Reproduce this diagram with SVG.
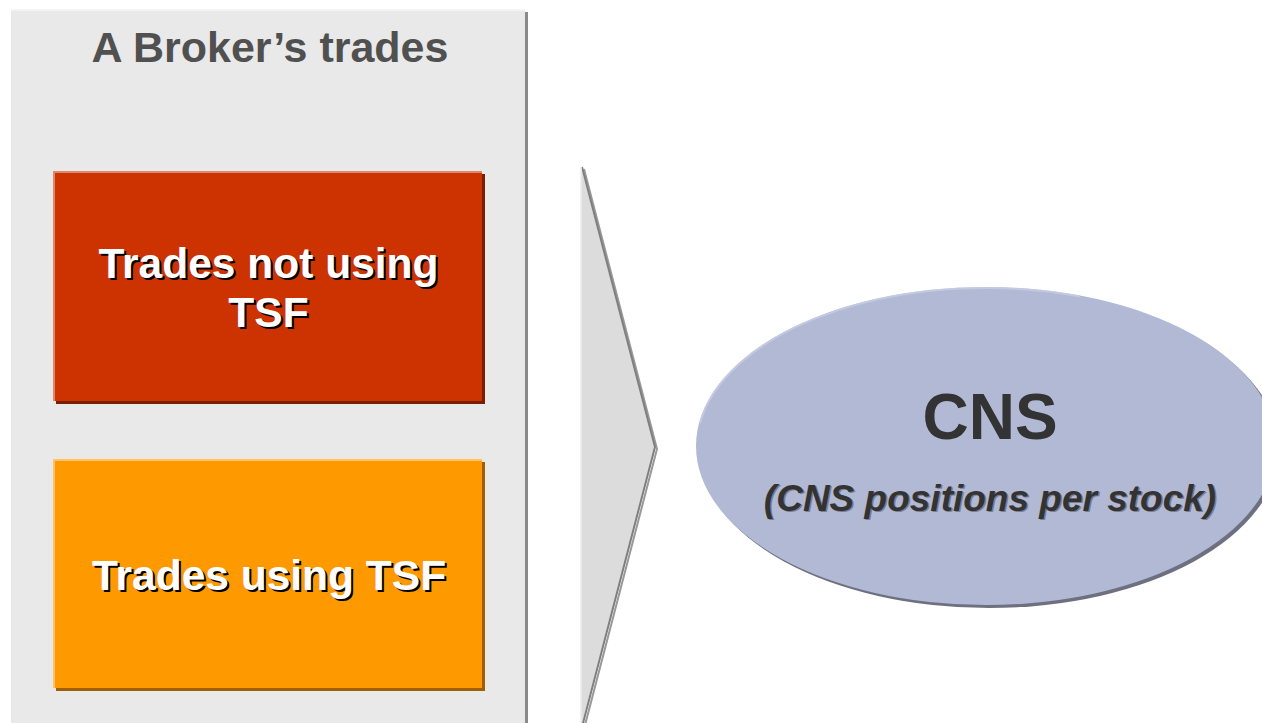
<svg xmlns="http://www.w3.org/2000/svg" width="1262" height="723" viewBox="0 0 1262 723">
<style>
.t{font-family:"Liberation Sans",Arial,sans-serif;font-weight:bold;text-anchor:middle}
.w{fill:#ffffff;font-size:42.5px}
.ws{fill:#000000;font-size:42.5px}
</style>
<rect x="0" y="0" width="1262" height="723" fill="#ffffff"/>
<g id="panel">
<rect x="14" y="12" width="514" height="720" fill="#8a8a8a"/>
<rect x="11" y="9" width="514" height="720" fill="#e9e9e9"/>
<rect x="11" y="9" width="514" height="2" fill="#f4f4f4"/>
<text class="t" x="270" y="62" font-size="43" fill="#505050">A Broker’s trades</text>
</g>
<g id="red-box">
<rect x="56" y="174" width="429" height="230" fill="#7a1e00"/>
<rect x="53" y="171" width="429" height="230" fill="#cc3300"/>
<rect x="53" y="171" width="429" height="2" fill="#e2856a"/>
<rect x="53" y="171" width="2" height="230" fill="#e2856a"/>
<text class="t ws" x="270.5" y="280">Trades not using</text>
<text class="t ws" x="270.5" y="329">TSF</text>
<text class="t w" x="268.5" y="278">Trades not using</text>
<text class="t w" x="268.5" y="327">TSF</text>
</g>
<g id="orange-box">
<rect x="56" y="462" width="429" height="229" fill="#a05f00"/>
<rect x="53" y="459" width="429" height="229" fill="#ff9900"/>
<rect x="53" y="459" width="429" height="2" fill="#ffc266"/>
<rect x="53" y="459" width="2" height="229" fill="#ffc266"/>
<text class="t ws" x="271" y="592">Trades using TSF</text>
<text class="t w" x="269" y="590">Trades using TSF</text>
</g>
<g id="connectors">
<polygon points="581,167 655,447 581,727" fill="#dcdcdc"/>
<polyline points="584,169 657,449 584,729" fill="none" stroke="#999999" stroke-width="2"/>
<polyline points="582,167 655,447 582,727" fill="none" stroke="#7f7f7f" stroke-width="2"/>
<line x1="581" y1="167" x2="581" y2="723" stroke="#ececec" stroke-width="1.5"/>
</g>
<g id="cns">
<ellipse cx="989" cy="449" rx="290" ry="159" fill="#6e7080"/>
<ellipse cx="986" cy="446" rx="290" ry="159" fill="#b1b9d5"/>
<path d="M 700 423.3 A 289 158 0 0 1 1080 296.6" fill="none" stroke="#c8cde2" stroke-width="2" stroke-opacity="0.8"/>
<text class="t" x="990" y="439" font-size="64" fill="#333333">CNS</text>
<text class="t" x="991.5" y="512" font-size="37" font-style="italic" fill="#555566" fill-opacity="0.6">(CNS positions per stock)</text>
<text class="t" x="990" y="511" font-size="37" font-style="italic" fill="#333333">(CNS positions per stock)</text>
</g>
</svg>
